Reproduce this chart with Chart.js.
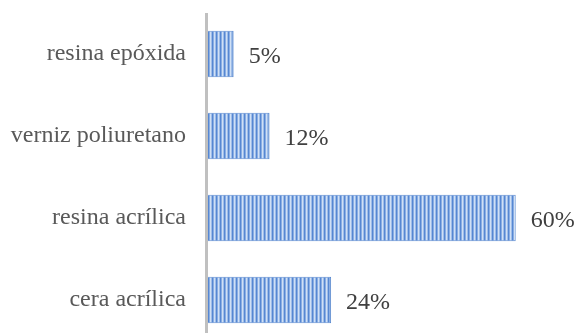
<!DOCTYPE html>
<html>
<head>
<meta charset="utf-8">
<script src="https://cdn.jsdelivr.net/npm/chart.js@4.4.1/dist/chart.umd.min.js"></script>
<style>
  html, body { margin:0; padding:0; background:#fff; overflow:hidden; }
</style>
</head>
<body>
<canvas id="chart" width="576" height="345"></canvas>
<script>
const categories = ['resina epóxida', 'verniz poliuretano', 'resina acrílica', 'cera acrílica'];
const percentages = [5, 12, 60, 24];

const FONT = "'Liberation Serif', 'Times New Roman', serif";

// vertical pinstripe fill, 4px repeat
function stripes(){
  const c = document.createElement('canvas');
  c.width = 4; c.height = 4;
  const g = c.getContext('2d');
  const cols = ['#5687d2', '#8aaee3', '#d0e0f5', '#9ebde9'];
  cols.forEach((col,i)=>{ g.fillStyle = col; g.fillRect(i,0,1,4); });
  return g.createPattern(c, 'repeat');
}

const valueLabels = {
  id:'valueLabels',
  afterDatasetsDraw(chart){
    const {ctx} = chart;
    const meta = chart.getDatasetMeta(0);
    ctx.save();
    ctx.font = `24px ${FONT}`;
    ctx.fillStyle = '#404040';
    ctx.textAlign = 'left';
    ctx.textBaseline = 'middle';
    meta.data.forEach((bar,i)=>{
      ctx.fillText(percentages[i] + '%', bar.x + 15, bar.y + 3);
    });
    ctx.restore();
  }
};

const axisLine = {
  id:'axisLine',
  afterDatasetsDraw(chart){
    const {ctx, chartArea} = chart;
    ctx.save();
    ctx.fillStyle = '#c0c0c0';
    ctx.fillRect(chartArea.left - 3, 13, 3, chart.height);
    ctx.restore();
  }
};

new Chart(document.getElementById('chart').getContext('2d'), {
  type:'bar',
  data:{
    labels:categories,
    datasets:[{
      data:percentages,
      backgroundColor:stripes(),
      borderColor:'#5c8bd0',
      borderWidth:1,
      borderSkipped:'left',
      barPercentage:0.57,
      categoryPercentage:1
    }]
  },
  options:{
    indexAxis:'y',
    responsive:false,
    animation:false,
    layout:{ padding:{ top:13, bottom:4, right:9, left:0 } },
    plugins:{ legend:{display:false}, tooltip:{enabled:false} },
    scales:{
      x:{ display:false, min:0, max:70 },
      y:{
        grid:{ display:false, drawTicks:false },
        border:{ display:false },
        ticks:{ color:'#595959', font:{ family:FONT, size:24 }, padding:22 },
        afterFit(scale){
          scale.width = 208;
          scale.paddingTop = 0;
          scale.paddingBottom = 0;
        }
      }
    }
  },
  plugins:[valueLabels, axisLine]
});
</script>
</body>
</html>
